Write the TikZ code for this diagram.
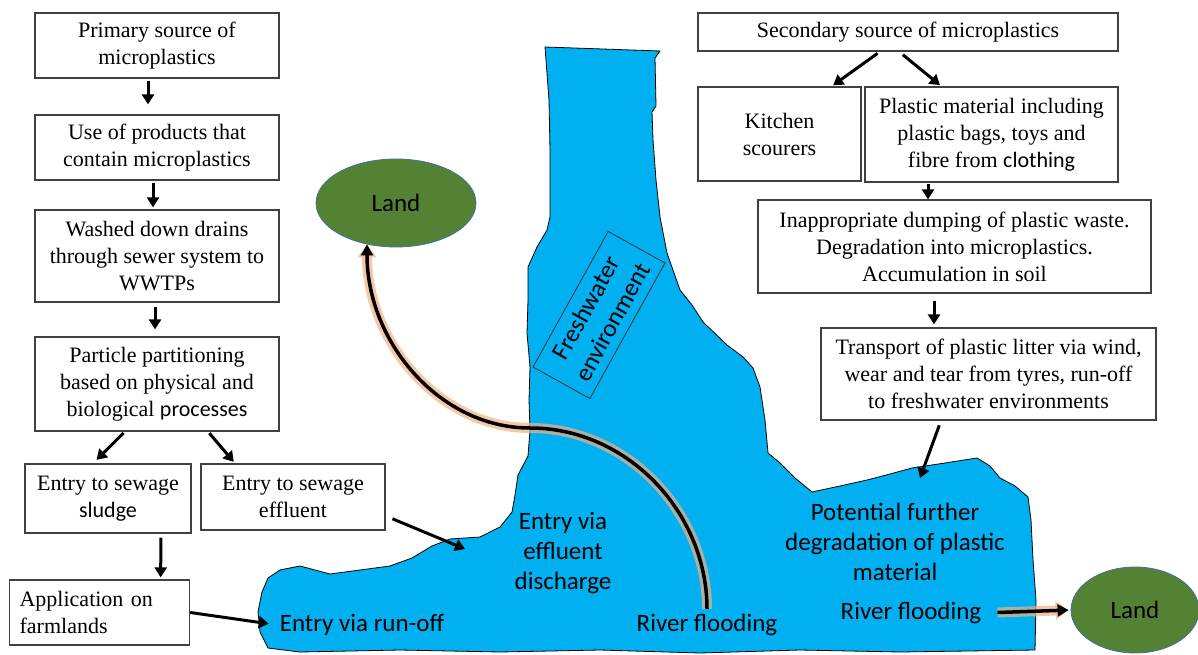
\documentclass[tikz,border=0pt]{standalone}
\usepackage{fontspec}
\setmainfont{Liberation Serif}
\newfontfamily\calibri{Carlito}
\usetikzlibrary{arrows.meta,shapes.geometric}

\definecolor{water}{HTML}{00B0F0}
\definecolor{landgreen}{HTML}{548235}
\definecolor{landedge}{HTML}{41719C}
\definecolor{glow}{HTML}{F4B183}

\tikzset{
  box/.style={draw=black!75, line width=1.2pt, fill=white, align=center, inner sep=2pt, font=\fontsize{22}{27}\selectfont},
  flow/.style={line width=3pt, -{Triangle[length=10pt,width=12pt]}},
  glowflow/.style={line width=3.5pt, -{Triangle[length=11pt,width=12pt]},
    preaction={draw=glow, opacity=0.7, line width=10pt, -{Triangle[length=13pt,width=18pt]}}},
  land/.style={ellipse, fill=landgreen, draw=landedge, line width=0.8pt, inner sep=0pt, font=\calibri\fontsize{25}{30}\selectfont},
  wlabel/.style={align=center, inner sep=2pt, font=\calibri\fontsize{25}{30}\selectfont},
}

\begin{document}
\begin{tikzpicture}[x=1pt,y=-1pt]
\useasboundingbox (0,0) rectangle (1198,655);

% freshwater body
\draw[fill=water, line width=0.8pt, line join=round]
  (545,47) -- (660,51) -- (655,58) -- (656,106) -- (652,112) -- (653,140) -- (656,180) -- (660,217)
  -- (667,253) -- (680,290) -- (692,305) -- (703,322) -- (727,345) -- (743,357) -- (753,368)
  -- (760,387) -- (765,420) -- (768,453) -- (780,463) -- (795,478) -- (812,492) -- (840,486)
  -- (867,480) -- (890,474) -- (912,468) -- (945,463) -- (977,458) -- (990,466) -- (1000,478)
  -- (1015,486) -- (1028,497) -- (1031,520) -- (1033,560) -- (1036,600) -- (1035,650)
  -- (900,652) -- (800,650) -- (700,653) -- (600,650) -- (500,652) -- (400,650) -- (300,652)
  -- (268,648) -- (260,632) -- (258,612) -- (262,592) -- (268,578) -- (280,570) -- (300,566)
  -- (330,574) -- (360,570) -- (390,566) -- (412,558) -- (432,546) -- (450,539) -- (480,537)
  -- (500,527) -- (512,512) -- (515,495) -- (518,475) -- (528,456) -- (530,430) -- (529,400)
  -- (530,367) -- (527,333) -- (528,300) -- (528,267) -- (537,247) -- (547,230) -- (550,217)
  -- (550,150) -- (549,100) -- cycle;

% primary source chain
\node[box, minimum width=244, minimum height=65] (prim) at (157,45.5) {Primary source of\\microplastics};
\node[box, minimum width=244, minimum height=65] (use) at (157,147.5) {Use of products that\\contain microplastics};
\node[box, minimum width=244, minimum height=92] (wash) at (157,256) {Washed down drains\\through sewer system to\\WWTPs};
\node[box, minimum width=244, minimum height=94] (part) at (157,384) {Particle partitioning\\based on physical and\\biological {\calibri processes}};
\node[box, minimum width=166, minimum height=69] (sludge) at (108,498.5) {Entry to sewage\\{\calibri sludge}};
\node[box, minimum width=184, minimum height=66] (effl) at (293,497) {Entry to sewage\\effluent};
\node[box, text width=160, inner xsep=10pt, align=left, minimum height=65, anchor=west] (appl) at (9,612.5) {Application on\\farmlands};

% secondary source chain
\node[box, minimum width=420, minimum height=38] (sec) at (908,32) {Secondary source of microplastics};
\node[box, minimum width=163, minimum height=94] (kitch) at (779.5,134) {Kitchen\\scourers};
\node[box, minimum width=253, minimum height=95] (plast) at (991.5,134.5) {Plastic material including\\plastic bags, toys and\\fibre from {\calibri clothing}};
\node[box, minimum width=393, minimum height=93] (dump) at (954.5,246.5) {Inappropriate dumping of plastic waste.\\Degradation into microplastics.\\Accumulation in soil};
\node[box, minimum width=335, minimum height=92] (transp) at (988.5,374) {Transport of plastic litter via wind,\\wear and tear from tyres, run-off\\to freshwater environments};

% labels in the water
\node[wlabel, rotate=61, draw=black!80, line width=0.8pt, minimum width=155, minimum height=65] (fresh) at (599,315) {Freshwater\\environment};
\node[wlabel] (runoff) at (362,625) {Entry via run-off};
\node[wlabel] (effdis) at (563,553) {Entry via\\effluent\\discharge};
\node[wlabel] (rflood1) at (707,625) {River flooding};
\node[wlabel] (further) at (895,542) {Potential further\\degradation of plastic\\material};
\node[wlabel] (rflood2) at (911,613) {River flooding};

\node[land, minimum width=160, minimum height=88] (land1) at (396,203) {Land};
\node[land, minimum width=128, minimum height=86] (land2) at (1135,610) {Land};

\coordinate (wtr1) at (465,549);
\coordinate (wtr2) at (920,478);
\coordinate (bend) at (530,428);

\draw[flow, shorten <=2pt, shorten >=10pt] ([xshift=-9pt]prim.south) -- ([xshift=-9pt]use.north);
\draw[flow, shorten <=2pt, shorten >=2pt] ([xshift=-4pt]use.south) -- ([xshift=-4pt]wash.north);
\draw[flow, shorten <=4pt, shorten >=7pt] ([xshift=-2pt]wash.south) -- ([xshift=-2pt]part.north);
\draw[flow, shorten <=2pt, shorten >=5pt] ([xshift=-32pt]part.south) -- ([xshift=-15pt]sludge.north);
\draw[flow, shorten <=2pt, shorten >=2pt] ([xshift=51pt]part.south) -- ([xshift=-58pt]effl.north);
\draw[flow, shorten <=4pt, shorten >=2pt] ([xshift=53pt]sludge.south) -- ([xshift=61pt]appl.north);
\draw[flow, shorten >=9pt] (appl.east) -- (runoff.west);
\draw[flow, shorten <=2pt] ([shift={(5,21)}]effl.east) -- (wtr1);

\draw[flow, shorten <=3pt, shorten >=2pt] ([xshift=-28pt]sec.south) -- ([xshift=52pt]kitch.north);
\draw[flow, shorten <=5pt, shorten >=2pt] ([xshift=-9pt]sec.south) -- ([xshift=-50pt]plast.north);
\draw[flow, shorten <=1pt] ([xshift=-63.5pt]plast.south) -- ([xshift=-26.5pt]dump.north);
\draw[flow, shorten <=7pt, shorten >=3pt] ([xshift=-20.5pt]dump.south) -- ([xshift=-54.5pt]transp.north);
\draw[flow, shorten <=5pt] ([xshift=-47.5pt]transp.south) -- (wtr2);

% flooding back onto land
\draw[glowflow, shorten <=3pt] (rflood1.north) .. controls +(0,-99) and +(98,0) .. (bend)
  .. controls +(-90,0) and +(0,98) .. (land1.235);
\draw[glowflow, shorten <=14pt, shorten >=2pt] (rflood2.east) -- (land2.west);

\end{tikzpicture}
\end{document}
